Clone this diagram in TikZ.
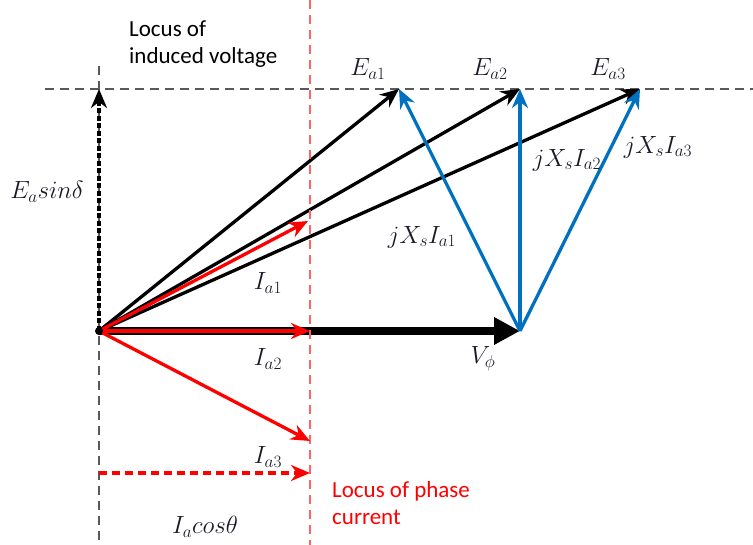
\documentclass[tikz,border=0pt]{standalone}
\usepackage{fontspec}
\setmainfont{Carlito}
\usetikzlibrary{arrows.meta}
\definecolor{vblue}{RGB}{0,112,192}
\definecolor{lred}{RGB}{255,100,100}
\definecolor{mathc}{RGB}{25,25,40}
\begin{document}
\begin{tikzpicture}[x=1pt,y=-1pt,
  blk/.style={line width=3.3pt,-{Stealth[length=19pt,width=16pt]}},
  blu/.style={line width=3.3pt,vblue,-{Stealth[length=19pt,width=16pt]}},
  rd/.style={line width=3.3pt,red,-{Stealth[length=19pt,width=16pt]}},
  guide/.style={line width=1.3pt,black!65,dash pattern=on 9pt off 6pt},
  rguide/.style={line width=1.3pt,lred,dash pattern=on 9pt off 6pt},
  mlab/.style={text=mathc,font=\fontsize{25}{29}\selectfont,inner sep=0pt},
  tlab/.style={font=\fontsize{23}{27}\selectfont,align=left,inner sep=0pt}]
\useasboundingbox (0,0) rectangle (753,545);
% coordinates
\coordinate (O) at (99,331);
\coordinate (E1) at (399,89);
\coordinate (E2) at (520,89);
\coordinate (E3) at (640,89);
\coordinate (V) at (520,331);
\coordinate (I1) at (308,221);
\coordinate (I2) at (310,331);
\coordinate (I3) at (310,441);
\coordinate (H0) at (45,89);
\coordinate (H1) at (753,89);
\coordinate (B0) at (99,66);
\coordinate (B1) at (99,545);
\coordinate (R0) at (310,0);
\coordinate (R1) at (310,545);
\coordinate (C0) at (99,473);
\coordinate (C1) at (310,473);
\coordinate (S1) at (99,89);
% guides
\draw[guide] (H0) -- (H1);
\draw[guide] (B0) -- (B1);
% E_a sin delta
\draw[line width=3.6pt,dash pattern=on 5pt off 2.5pt,-{Stealth[length=19pt,width=16pt]}] (O) -- (S1);
% black E arrows
\draw[blk] (O) -- (E1);
\draw[blk] (O) -- (E2);
\draw[blk] (O) -- (E3);
% V phi
\draw[line width=8pt,-{Triangle[length=26pt,width=26pt]}] (O) -- (V);
% blue
\draw[blu] (V) -- (E1);
\draw[blu] (V) -- (E2);
\draw[blu] (V) -- (E3);
% red locus
\draw[rguide] (R0) -- (R1);
% red arrows
\draw[rd] (O) -- (I1);
\draw[rd] (O) -- (I2);
\draw[rd] (O) -- (I3);
\draw[line width=3.3pt,red,dash pattern=on 8pt off 5pt,-{Stealth[length=19pt,width=16pt]}] (C0) -- (C1);
\fill (O) circle (4pt);
% labels
\node[tlab,anchor=north west] (t1) at (129,21) {Locus of\\induced voltage};
\node[tlab,anchor=north west,text=red] (t2) at (332,481) {Locus of phase\\current};
\node[mlab] (lE1) at (368,69) {$E_{a1}$};
\node[mlab] (lE2) at (490,69) {$E_{a2}$};
\node[mlab] (lE3) at (608,69) {$E_{a3}$};
\node[mlab] (lj1) at (422,237) {$jX_sI_{a1}$};
\node[mlab] (lj2) at (567,160) {$jX_sI_{a2}$};
\node[mlab] (lj3) at (658,147) {$jX_sI_{a3}$};
\node[mlab] (lI1) at (268,283) {$I_{a1}$};
\node[mlab] (lI2) at (268,359) {$I_{a2}$};
\node[mlab] (lI3) at (268,457) {$I_{a3}$};
\node[mlab] (lV) at (483,359) {$V_{\phi}$};
\node[mlab] (lS) at (47,192) {$E_a sin\delta$};
\node[mlab] (lC) at (205,527) {$I_a cos\theta$};
\end{tikzpicture}
\end{document}
